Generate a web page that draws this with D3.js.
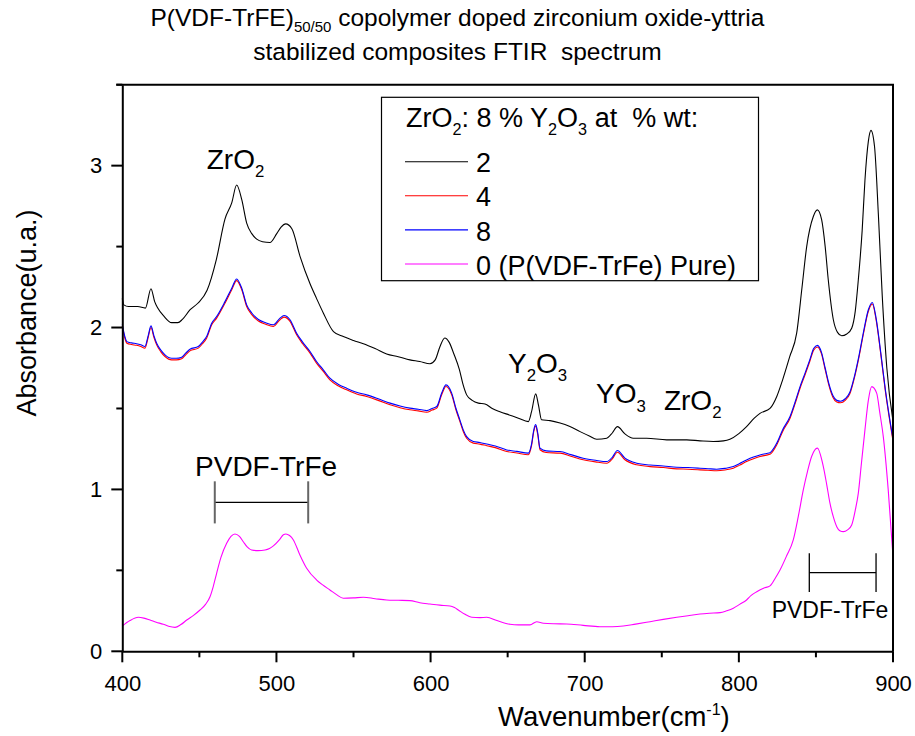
<!DOCTYPE html>
<html>
<head>
<meta charset="utf-8">
<script src="https://cdn.jsdelivr.net/npm/d3@7"></script>
<style>
  body { margin: 0; background: #fff; }
  svg { display: block; font-family: "Liberation Sans", Arial, sans-serif; }
  svg text { white-space: pre; }
</style>
</head>
<body>
<div id="chart"></div>
<script>
// ZrO2:8%Y2O3 at 2 % wt
const waveBlack = [400,401,404,410,415,418.6,421,423,427,432,436,439,444,449,455,461,466.6,471,474.2,477.5,480.7,484,487.2,491,495.8,500.2,503,506,510,515.3,521.8,526,530.4,537,543.4,550,556.4,564,571.5,579,586.6,593,599.6,603,606,609.2,612,615,618.7,621,623.4,627,631,635.3,640,645,651,657,663.4,665.5,668.2,670,672,677.5,684,690,697,703,707.8,714.3,718,721.2,726.1,731.5,740.2,753.2,766.2,774.8,783.4,790,794.2,800,805,810,813.7,820.2,824.6,828.4,833,837.5,841,844,848.3,850.9,853.7,856,858,861.3,864,866.7,870,873.2,875.5,877.5,880,881.8,884,885.7,888,890.5,893,896,900];
const absBlack = [2.18,2.14,2.13,2.13,2.12,2.24,2.16,2.12,2.07,2.03,2.03,2.05,2.11,2.15,2.23,2.42,2.67,2.77,2.88,2.79,2.645,2.58,2.546,2.53,2.525,2.58,2.62,2.64,2.61,2.44,2.27,2.18,2.09,1.975,1.944,1.92,1.90,1.87,1.837,1.82,1.80,1.79,1.776,1.80,1.88,1.935,1.91,1.84,1.74,1.65,1.584,1.55,1.533,1.528,1.50,1.48,1.46,1.44,1.419,1.48,1.59,1.52,1.43,1.425,1.41,1.39,1.357,1.33,1.31,1.316,1.35,1.388,1.343,1.316,1.316,1.306,1.306,1.30,1.296,1.30,1.31,1.345,1.388,1.44,1.47,1.50,1.574,1.677,1.82,1.965,2.25,2.50,2.686,2.727,2.666,2.50,2.295,2.048,1.97,1.949,1.96,1.996,2.10,2.295,2.60,2.91,3.15,3.218,3.12,2.70,2.20,1.75,1.42];

// 4 % and 8 % wt share the same wavenumbers
const waveMid = [400,401.5,403,406,409.3,412,414.7,416.8,418.6,420.5,422.3,425,427.7,432,435,438.5,441,443.9,449.3,452,454.7,458,461.2,466.6,471,474.2,477.5,480.7,484,488.3,493,498,502.3,504.9,508.8,513.1,517,521.8,526,530.4,534.7,540,545.6,552,558.5,566,573.7,580.2,586.6,592,597.5,601,604,607.2,610,613.7,616.5,619,621.2,623.4,627.7,632,636.4,642,649.4,656,663.4,665.5,667,668.2,669.5,671,675,684,691,699,707,714.3,718,721.2,726.1,733.7,742.4,751,759.7,767,774.8,780,785.6,791,796.4,800.5,805,809.5,813.7,818,820.2,824.6,828.5,833.2,836.5,839.7,843,846,848.5,851,853.5,856,858.5,861,863.5,866,869,872,875,878,881,884,886.6,889,892,895,900];
const absRed = [2.01,1.94,1.903,1.895,1.89,1.883,1.873,1.94,2.0,1.94,1.893,1.85,1.821,1.80,1.80,1.807,1.83,1.856,1.873,1.90,1.934,2.017,2.058,2.15,2.233,2.29,2.233,2.13,2.08,2.04,2.02,2.007,2.048,2.064,2.038,1.955,1.90,1.842,1.78,1.729,1.677,1.64,1.615,1.59,1.574,1.55,1.523,1.505,1.492,1.485,1.477,1.49,1.502,1.585,1.636,1.585,1.49,1.42,1.358,1.316,1.286,1.28,1.27,1.258,1.234,1.225,1.214,1.27,1.36,1.39,1.34,1.245,1.228,1.224,1.205,1.183,1.17,1.162,1.19,1.23,1.183,1.152,1.141,1.135,1.127,1.125,1.121,1.118,1.115,1.12,1.131,1.15,1.172,1.19,1.203,1.212,1.217,1.276,1.36,1.44,1.53,1.625,1.71,1.79,1.86,1.88,1.84,1.74,1.64,1.57,1.54,1.535,1.55,1.59,1.69,1.82,1.97,2.10,2.145,2.05,1.84,1.61,1.30];
const absBlue = [2.02,1.95,1.913,1.905,1.90,1.893,1.883,1.95,2.01,1.95,1.903,1.86,1.831,1.81,1.81,1.817,1.84,1.866,1.883,1.91,1.944,2.027,2.068,2.16,2.243,2.30,2.243,2.14,2.09,2.05,2.03,2.017,2.058,2.074,2.048,1.965,1.91,1.852,1.79,1.739,1.687,1.65,1.625,1.60,1.584,1.56,1.533,1.515,1.502,1.495,1.487,1.50,1.512,1.595,1.646,1.595,1.50,1.43,1.368,1.326,1.296,1.29,1.28,1.268,1.244,1.235,1.224,1.28,1.37,1.40,1.35,1.255,1.238,1.234,1.215,1.193,1.18,1.172,1.20,1.24,1.193,1.162,1.151,1.145,1.137,1.135,1.131,1.128,1.125,1.13,1.141,1.16,1.182,1.20,1.213,1.222,1.227,1.286,1.37,1.45,1.54,1.635,1.72,1.80,1.87,1.89,1.85,1.75,1.65,1.58,1.55,1.545,1.56,1.60,1.70,1.83,1.98,2.11,2.155,2.06,1.85,1.62,1.31];

// pure P(VDF-TrFe)
const waveMag = [400,405,410.4,414,418,422,426.6,430,434.2,438,441.8,446,450.4,454,456.9,459,461.2,464,467.7,470.5,473.1,476,478.5,481,483.9,488,492.6,495.5,498,502,504.5,506.2,508.5,511,515,519.6,526.1,530,534.7,539,543.4,550,556.4,564,571.5,579,586.6,593,599.6,606,612.6,615.5,618,622,626.7,632,636.4,643,651.5,657,664.5,668.8,673.2,680,688.3,699,709.9,718,725,733,742.4,751,759.7,767,774.8,781,787.8,792,796.4,800.5,805,808,811.6,816,820.2,823.5,826.7,831,835.3,838.5,841.8,844.5,847.2,850.9,854.8,857,859.1,861.3,863.5,865.5,867.8,870.5,873.2,875.5,877.5,879.5,881.8,884,886.2,889.4,891.5,893.7,896.9,900];
const absMag = [0.156,0.19,0.21,0.205,0.193,0.18,0.167,0.155,0.148,0.165,0.193,0.22,0.255,0.29,0.337,0.40,0.482,0.58,0.667,0.71,0.725,0.71,0.677,0.645,0.626,0.622,0.626,0.635,0.651,0.69,0.72,0.725,0.715,0.688,0.60,0.513,0.44,0.41,0.379,0.35,0.328,0.33,0.334,0.325,0.317,0.315,0.313,0.30,0.292,0.285,0.28,0.27,0.255,0.23,0.21,0.208,0.21,0.19,0.167,0.163,0.163,0.183,0.173,0.17,0.169,0.16,0.152,0.152,0.156,0.168,0.183,0.197,0.21,0.22,0.23,0.235,0.239,0.25,0.266,0.29,0.317,0.345,0.368,0.39,0.404,0.45,0.502,0.59,0.688,0.83,0.997,1.11,1.203,1.255,1.141,1.03,0.915,0.83,0.77,0.745,0.739,0.75,0.78,0.87,0.977,1.16,1.368,1.55,1.635,1.595,1.47,1.326,0.997,0.585];

const seriesLabels = ['2', '4', '8', '0 (P(VDF-TrFe) Pure)'];
const seriesColors = ['#000000', '#ff0000', '#0000ff', '#ff00ff'];

const xTicks = [400, 500, 600, 700, 800, 900];
const xMinorTicks = [450, 550, 650, 750, 850];
const yTicks = [0, 1, 2, 3];
const yMinorTicks = [0.5, 1.5, 2.5, 3.5];

// band labels: [wavenumber, absorbance, pieces], piece = [text, isSubscript]
const bandLabels = [
  [454.8, 2.98, [['ZrO', 0], ['2', 1]]],
  [650.2, 1.72, [['Y', 0], ['2', 1], ['O', 0], ['3', 1]]],
  [707.3, 1.533, [['YO', 0], ['3', 1]]],
  [751.4, 1.491, [['ZrO', 0], ['2', 1]]],
  [447.2, 1.085, [['PVDF-TrFe', 0]]]
];
// bracket ranges of the polymer bands: [from, to, level]
const bandRanges = [[460, 520.6, 0.92], [845.7, 889, 0.486]];

const width = 915, height = 736;
const margin = { top: 84.7, right: 22, bottom: 84.7, left: 122.3 };

const svg = d3.select('#chart').append('svg')
  .attr('width', width)
  .attr('height', height);

const x = d3.scaleLinear().domain([400, 900]).range([margin.left, width - margin.right]);
const y = d3.scaleLinear().domain([0, 3.5]).range([height - margin.bottom, margin.top]);

// title
const title = svg.append('text')
  .attr('text-anchor', 'middle')
  .style('font-size', '24.5px');
const t1 = title.append('tspan').attr('x', width / 2).attr('y', 26);
t1.append('tspan').text('P(VDF-TrFE)');
t1.append('tspan').attr('dy', 6).style('font-size', '15px').text('50/50');
t1.append('tspan').attr('dy', -6).text(' copolymer doped zirconium oxide-yttria');
title.append('tspan').attr('x', width / 2).attr('y', 60).text('stabilized composites FTIR  spectrum');

// curves
const line = d3.line()
  .x(d => x(d[0]))
  .y(d => y(d[1]))
  .curve(d3.curveMonotoneX);

const series = [
  d3.zip(waveBlack, absBlack),
  d3.zip(waveMid, absRed),
  d3.zip(waveMid, absBlue),
  d3.zip(waveMag, absMag)
];

svg.append('g')
  .selectAll('path')
  .data(series)
  .join('path')
  .attr('d', line)
  .attr('fill', 'none')
  .attr('stroke', (d, i) => seriesColors[i])
  .attr('stroke-width', 1.1);

// axes (labels + spine), tick marks drawn below
svg.append('g')
  .attr('transform', `translate(0,${y(0)})`)
  .call(d3.axisBottom(x).tickValues(xTicks).tickSize(0).tickPadding(24));
svg.append('g')
  .attr('transform', `translate(${x(400)},0)`)
  .call(d3.axisLeft(y).tickValues(yTicks).tickSize(0).tickPadding(20).tickFormat(d3.format('d')));

svg.selectAll('.domain')
  .attr('stroke', '#000')
  .attr('stroke-width', 2);
svg.selectAll('.tick text')
  .attr('fill', '#000')
  .style('font-size', '22px')
  .style('font-family', '"Liberation Sans", Arial, sans-serif');

const tickMarks = svg.append('g').attr('stroke', '#000').attr('stroke-width', 2);
tickMarks.selectAll('line.xt')
  .data(xTicks.map(v => [v, 11]).concat(xMinorTicks.map(v => [v, 6])))
  .join('line')
  .attr('class', 'xt')
  .attr('x1', d => x(d[0])).attr('x2', d => x(d[0]))
  .attr('y1', y(0)).attr('y2', d => y(0) + d[1]);
tickMarks.selectAll('line.yt')
  .data(yTicks.map(v => [v, 11]).concat(yMinorTicks.map(v => [v, 6])))
  .join('line')
  .attr('class', 'yt')
  .attr('y1', d => y(d[0])).attr('y2', d => y(d[0]))
  .attr('x1', x(400)).attr('x2', d => x(400) - d[1]);

// frame top and right
svg.append('path')
  .attr('d', `M${x(400) - 6},${y(3.5)}H${x(900)}V${y(0)}`)
  .attr('fill', 'none')
  .attr('stroke', '#000')
  .attr('stroke-width', 2);

// axis titles
const xTitle = svg.append('text')
  .attr('x', 498)
  .attr('y', 726)
  .style('font-size', '27.5px');
xTitle.append('tspan').text('Wavenumber(cm');
xTitle.append('tspan').attr('dy', -11).style('font-size', '16px').text('-1');
xTitle.append('tspan').attr('dy', 11).text(')');

svg.append('text')
  .attr('transform', `translate(36,${313}) rotate(-90)`)
  .attr('text-anchor', 'middle')
  .style('font-size', '27px')
  .text('Absorbance(u.a.)');

// text with subscripts
function richText(g, px, py, pieces, size) {
  const t = g.append('text').attr('x', px).attr('y', py).style('font-size', size + 'px');
  let low = false;
  pieces.forEach(([s, sub]) => {
    const span = t.append('tspan').text(s);
    if (sub && !low) { span.attr('dy', size * 0.3); low = true; }
    if (!sub && low) { span.attr('dy', -size * 0.3); low = false; }
    if (sub) span.style('font-size', (size * 0.6) + 'px');
  });
  return t;
}

bandLabels.forEach(([w, a, pieces]) => richText(svg, x(w), y(a), pieces, 28));
svg.append('text')
  .attr('x', x(821.3))
  .attr('y', y(0.204))
  .style('font-size', '23px')
  .text('PVDF-TrFe');

// brackets
const brackets = svg.append('g').attr('fill', 'none');
bandRanges.forEach(([w0, w1, a], i) => {
  const h = i === 0 ? 0.13 : 0.12;
  brackets.append('path')
    .attr('d', `M${x(w0)},${y(a)}H${x(w1)}`)
    .attr('stroke', '#000')
    .attr('stroke-width', 1.2);
  brackets.selectAll(null)
    .data([w0, w1])
    .join('path')
    .attr('d', d => `M${x(d)},${y(a + h)}V${y(a - h)}`)
    .attr('stroke', i === 0 ? '#666' : '#000')
    .attr('stroke-width', i === 0 ? 2 : 1.3);
});

// legend
const legend = svg.append('g');
legend.append('rect')
  .attr('x', 381.5).attr('y', 97.3)
  .attr('width', 377).attr('height', 183.4)
  .attr('fill', '#fff')
  .attr('stroke', '#000')
  .attr('stroke-width', 1.2);
richText(legend, 406, 127.3, [['ZrO', 0], ['2', 1], [': 8 % Y', 0], ['2', 1], ['O', 0], ['3', 1], [' at  % wt:', 0]], 27);

const rows = legend.selectAll('g.row')
  .data(seriesLabels)
  .join('g')
  .attr('class', 'row')
  .attr('transform', (d, i) => `translate(0,${161.7 + i * 34.1})`);
rows.append('line')
  .attr('x1', 405).attr('x2', 468)
  .attr('stroke', (d, i) => seriesColors[i])
  .attr('stroke-width', 1.1);
rows.append('text')
  .attr('x', 476)
  .attr('y', 10.6)
  .style('font-size', '27px')
  .text(d => d);
</script>
</body>
</html>
